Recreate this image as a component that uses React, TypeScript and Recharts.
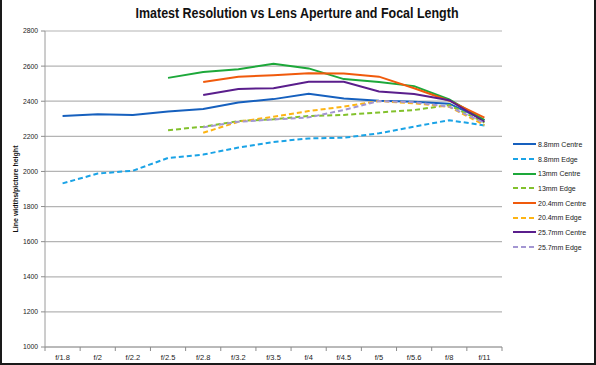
import React from 'react';
import { LineChart, Line, XAxis, YAxis, CartesianGrid, Legend, Label } from 'recharts';

const categories = ['f/1.8', 'f/2', 'f/2.2', 'f/2.5', 'f/2.8', 'f/3.2', 'f/3.5', 'f/4', 'f/4.5', 'f/5', 'f/5.6', 'f/8', 'f/11'];

const centre88 = [2316, 2326, 2322, 2342, 2356, 2393, 2412, 2443, 2415, 2402, 2397, 2386, 2292];
const edge88 = [1932, 1988, 2004, 2077, 2096, 2136, 2168, 2188, 2192, 2217, 2255, 2292, 2262];
const centre13 = [null, null, null, 2533, 2566, 2582, 2614, 2587, 2526, 2510, 2486, 2410, 2292];
const edge13 = [null, null, null, 2235, 2255, 2287, 2297, 2316, 2322, 2336, 2350, 2378, 2278];
const centre204 = [null, null, null, null, 2510, 2540, 2548, 2560, 2558, 2540, 2474, 2403, 2306];
const edge204 = [null, null, null, null, 2220, 2283, 2312, 2344, 2369, 2401, 2388, 2368, 2264];
const centre257 = [null, null, null, null, 2435, 2470, 2474, 2511, 2511, 2455, 2441, 2406, 2283];
const edge257 = [null, null, null, null, 2251, 2283, 2296, 2308, 2350, 2401, 2394, 2369, 2276];

const yTicks = [1000, 1200, 1400, 1600, 1800, 2000, 2200, 2400, 2600, 2800];

const title = 'Imatest Resolution vs Lens Aperture and Focal Length';
const yLabel = 'Line widths/picture height';

const series = [
  { key: 'c88', name: '8.8mm Centre', values: centre88, color: '#1660BE', dash: undefined },
  { key: 'e88', name: '8.8mm Edge', values: edge88, color: '#1AA3E6', dash: '5 3' },
  { key: 'c13', name: '13mm Centre', values: centre13, color: '#1DA83A', dash: undefined },
  { key: 'e13', name: '13mm Edge', values: edge13, color: '#82C12C', dash: '5 3' },
  { key: 'c204', name: '20.4mm Centre', values: centre204, color: '#F05A0C', dash: undefined },
  { key: 'e204', name: '20.4mm Edge', values: edge204, color: '#FDB414', dash: '5 3' },
  { key: 'c257', name: '25.7mm Centre', values: centre257, color: '#5A1E8C', dash: undefined },
  { key: 'e257', name: '25.7mm Edge', values: edge257, color: '#A396D2', dash: '5 3' },
];

const data = categories.map((c, i) => {
  const row: any = { cat: c };
  series.forEach((s) => {
    row[s.key] = s.values[i];
  });
  return row;
});

const W = 596;
const H = 365;
const MARGIN = { top: 31, right: 94, bottom: 0, left: 0 };
const Y_W = 45;
const X_H = 18;
const PLOT_W = W - MARGIN.left - MARGIN.right - Y_W;
const HALF_BAND = PLOT_W / categories.length / 2;
const FONT = '"Liberation Sans", Arial, sans-serif';

const XTick = (props: any) => {
  const { x, y, payload, index } = props;
  return (
    <g>
      <line x1={x - HALF_BAND} y1={y} x2={x - HALF_BAND} y2={y + 4} stroke="#8c8c8c" strokeWidth={1} />
      {index === categories.length - 1 && (
        <line x1={x + HALF_BAND} y1={y} x2={x + HALF_BAND} y2={y + 4} stroke="#8c8c8c" strokeWidth={1} />
      )}
      <text x={x} y={y + 13} textAnchor="middle" fontSize={7.5} fontFamily={FONT} fill="#222">
        {payload.value}
      </text>
    </g>
  );
};

const renderLegend = () => (
  <div style={{ fontFamily: FONT, fontSize: 7, color: '#222' }}>
    {series.map((s) => (
      <div key={s.key} style={{ display: 'flex', alignItems: 'center', height: 14.7 }}>
        <svg width={24} height={6} style={{ display: 'block' }}>
          <line x1={0} y1={3} x2={23} y2={3} stroke={s.color} strokeWidth={2} strokeDasharray={s.dash} />
        </svg>
        <span style={{ marginLeft: 1, whiteSpace: 'nowrap' }}>{s.name}</span>
      </div>
    ))}
  </div>
);

export default function App() {
  return (
    <div style={{ position: 'fixed', left: 0, top: 0, width: W, height: H, background: '#fff' }}>
      <LineChart width={W} height={H} data={data} margin={MARGIN}>
        <CartesianGrid vertical={false} stroke="#b4b4b4" strokeWidth={1.2} />
        <XAxis
          dataKey="cat"
          scale="band"
          height={X_H}
          tickLine={false}
          tickSize={0}
          tickMargin={0}
          axisLine={{ stroke: '#9a9a9a' }}
          interval={0}
          tick={<XTick />}
        />
        <YAxis
          width={Y_W}
          domain={[1000, 2800]}
          ticks={yTicks}
          interval={0}
          tickSize={4}
          tickMargin={3}
          tickLine={{ stroke: '#8c8c8c' }}
          axisLine={{ stroke: '#9a9a9a' }}
          tick={{ fontSize: 6.8, fontFamily: FONT, fill: '#222' }}
        >
          <Label
            content={(p: any) => {
              const vb = p.viewBox || {};
              const cy = (vb.y ?? 31) + (vb.height ?? 316) / 2;
              return (
                <text
                  x={15}
                  y={cy}
                  transform={`rotate(-90 15 ${cy})`}
                  textAnchor="middle"
                  dominantBaseline="central"
                  fontSize={7}
                  fontWeight="bold"
                  fontFamily={FONT}
                  fill="#111"
                  textLength={87}
                  lengthAdjust="spacingAndGlyphs"
                >
                  {yLabel}
                </text>
              );
            }}
          />
        </YAxis>
        <Legend
          layout="horizontal"
          verticalAlign="middle"
          align="center"
          content={renderLegend}
          wrapperStyle={{ left: 513, top: 137, width: 83 }}
        />
        {series.map((s) => (
          <Line
            key={s.key}
            dataKey={s.key}
            name={s.name}
            stroke={s.color}
            strokeWidth={2}
            strokeDasharray={s.dash}
            dot={false}
            activeDot={false}
            isAnimationActive={false}
            connectNulls={false}
            type="linear"
          />
        ))}
      </LineChart>
      <svg width={W} height={30} style={{ position: 'absolute', left: 0, top: 0 }}>
        <text
          x={297}
          y={18}
          textAnchor="middle"
          fontSize={14}
          fontWeight="bold"
          fontFamily={FONT}
          fill="#111"
          textLength={323}
          lengthAdjust="spacingAndGlyphs"
        >
          {title}
        </text>
      </svg>
      <div
        style={{
          position: 'absolute',
          left: 0,
          top: 0,
          width: W,
          height: H,
          boxSizing: 'border-box',
          borderLeft: '2px solid #1a1a1a',
          borderRight: '2px solid #1a1a1a',
          borderBottom: '2px solid #1a1a1a',
          pointerEvents: 'none',
        }}
      />
    </div>
  );
}
